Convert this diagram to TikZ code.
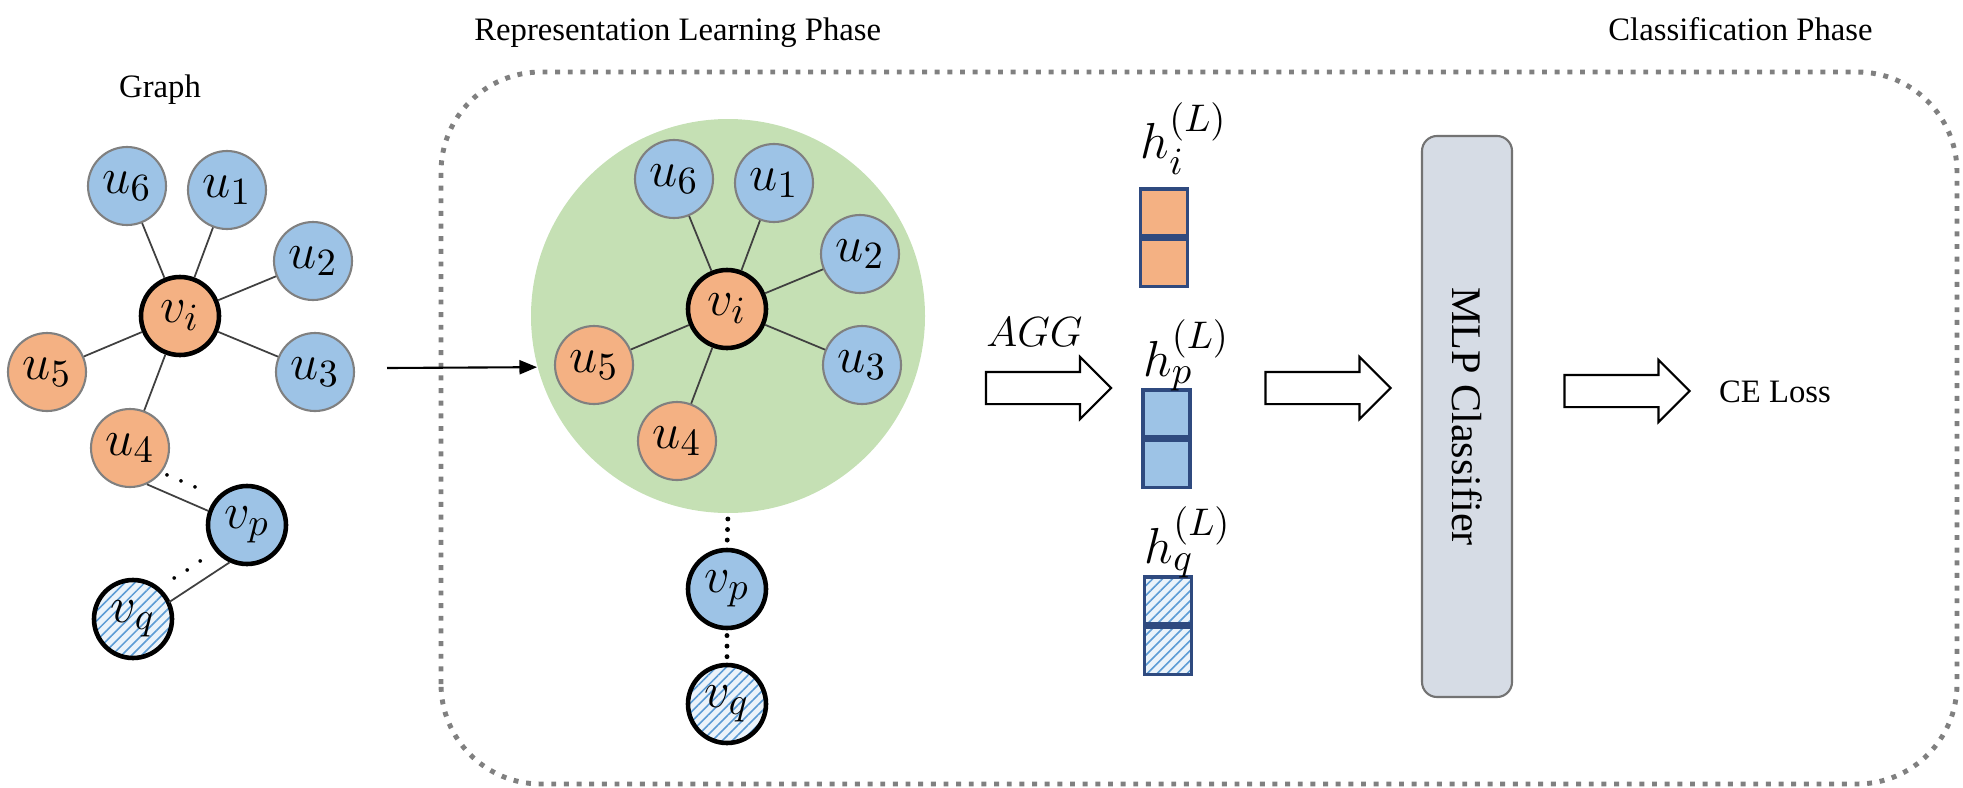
\documentclass[tikz,border=0pt]{standalone}
\usepackage{amsmath}
\usepackage{xcolor}
\usepackage{fontspec}
\setmainfont{Liberation Serif}
\usepackage{tikz}
\usetikzlibrary{positioning, arrows.meta, shapes.arrows, patterns.meta}

\definecolor{nodeblue}{HTML}{9DC3E6}
\definecolor{nodeorange}{HTML}{F4B183}
\definecolor{nodegreen}{HTML}{C5E0B4}
\definecolor{hatchblue}{HTML}{5B9BD5}
\definecolor{vecborder}{HTML}{2F4A7F}
\definecolor{mlpfill}{HTML}{D6DCE5}

\begin{document}
\begin{tikzpicture}[
		unode/.style={
				circle, draw=black!50, line width=0.6pt,
				minimum size=0.78cm, inner sep=0pt,
				font=\fontsize{15}{17}\selectfont
			},
		vnode/.style={unode, draw=black, line width=1.3pt},
		hatched/.style={
				preaction={fill=hatchblue!12},
				pattern={Lines[angle=45, distance=2pt, line width=0.45pt]},
				pattern color=hatchblue
			},
		link/.style={draw=black!75, line width=0.5pt},
		dotline/.style={line width=1.4pt, line cap=round, dash pattern=on 0pt off 3pt,
				shorten <=1.5pt, shorten >=1.5pt},
		vcell/.style={
				rectangle, draw=vecborder, line width=0.9pt,
				minimum width=0.47cm, minimum height=0.47cm, inner sep=0pt
			},
		veclabel/.style={inner sep=0pt, font=\fontsize{15}{17}\selectfont},
		blockarrow/.style={
				single arrow, draw=black, line width=0.6pt, fill=white,
				minimum height=1.25cm, inner sep=0pt, inner ysep=0.15cm,
				single arrow head extend=0.15cm, single arrow tip angle=90
			},
		phase/.style={font=\fontsize{9.3}{11}\selectfont}
	]
	\useasboundingbox (0,0) rectangle (19.63,7.87);

	% dotted frame of the two phases
	\draw[black!50, line width=1.4pt, dash pattern=on 1.4pt off 2.2pt, rounded corners=1cm]
	(4.41,0.03) rectangle (19.57,7.15);

	\node[phase, anchor=base] (graphtitle) at (1.60,6.90) {Graph};
	\node[phase, anchor=base west] (reptitle) at (4.62,7.47) {Representation Learning Phase};
	\node[phase, anchor=base east] (clstitle) at (18.85,7.47) {Classification Phase};

	% neighbourhood of v_i
	\node[circle, fill=nodegreen, minimum size=3.94cm] (nbhd) at (7.28,4.71) {};

	\foreach \g/\dx/\dy in {L/0/0, R/5.47/0.07}{
			\begin{scope}[shift={(\dx,\dy)}]
				\node[vnode, fill=nodeorange] (\g-vi) at (1.80,4.71) {$v_i$};
				\node[unode, fill=nodeblue] (\g-u6) at (1.27,6.01) {$u_6$};
				\node[unode, fill=nodeblue] (\g-u1) at (2.27,5.97) {$u_1$};
				\node[unode, fill=nodeblue] (\g-u2) at (3.13,5.26) {$u_2$};
				\node[unode, fill=nodeblue] (\g-u3) at (3.15,4.15) {$u_3$};
				\node[unode, fill=nodeorange] (\g-u5) at (0.47,4.15) {$u_5$};
				\node[unode, fill=nodeorange] (\g-u4) at (1.30,3.39) {$u_4$};
			\end{scope}
			\foreach \u in {1,...,6}
			\draw[link] (\g-vi) -- (\g-u\u);
		}

	% rest of the graph
	\node[vnode, fill=nodeblue] (L-vp) at (2.47,2.62) {$v_p$};
	\node[vnode, hatched] (L-vq) at (1.33,1.68) {$v_q$};
	\draw[link] (L-u4.-65) -- node[sloped, above=2pt, inner sep=0pt] {$\cdots$} (L-vp.160);
	\draw[link] (L-vp.245) -- node[sloped, above=2pt, inner sep=0pt] {$\cdots$} (L-vq.25);

	\node[vnode, fill=nodeblue] (R-vp) at (7.27,1.98) {$v_p$};
	\node[vnode, hatched] (R-vq) at (7.27,0.83) {$v_q$};
	\draw[dotline] (nbhd.south) -- (R-vp.north);
	\draw[dotline] (R-vp.south) -- (R-vq.north);

	\coordinate (gtail) at (3.87,4.19);
	\draw[-{Triangle[length=5pt, width=4pt]}, line width=0.6pt] (gtail) -- (nbhd.195);

	% aggregation
	\node[blockarrow] (agg) at (10.405,3.99) {};
	\node[veclabel, anchor=base, font=\fontsize{12.5}{14}\selectfont] (agglabel)
	at ([xshift=-0.06cm, yshift=0.24cm]agg.north) {$AGG$};

	% final representations
	\node[vcell, fill=nodeorange] (hi-top) at (11.64,5.745) {};
	\node[vcell, fill=nodeorange, below=0pt of hi-top] (hi-bot) {};
	\node[veclabel, above=0.12cm of hi-top, xshift=0.2cm] (hi-lbl) {$h_i^{(L)}$};

	\node[vcell, fill=nodeblue] (hp-top) at (11.665,3.735) {};
	\node[vcell, fill=nodeblue, below=0pt of hp-top] (hp-bot) {};
	\node[veclabel, above=-0.03cm of hp-top, xshift=0.2cm] (hp-lbl) {$h_p^{(L)}$};

	\node[vcell, hatched] (hq-top) at (11.68,1.865) {};
	\node[vcell, hatched, below=0pt of hq-top] (hq-bot) {};
	\node[veclabel, above=-0.03cm of hq-top, xshift=0.2cm] (hq-lbl) {$h_q^{(L)}$};

	% classification
	\node[blockarrow] (tomlp) at (13.20,3.99) {};
	\node[draw=black!55, fill=mlpfill, line width=0.6pt, rounded corners=0.15cm,
		rotate=-90, minimum width=5.61cm, minimum height=0.9cm,
		font=\fontsize{12}{14}\selectfont] (mlp) at (14.67,3.705) {MLP Classifier};
	\node[blockarrow] (toloss) at (16.19,3.96) {};
	\node[phase] (loss) at (17.75,3.95) {CE Loss};
\end{tikzpicture}
\end{document}
